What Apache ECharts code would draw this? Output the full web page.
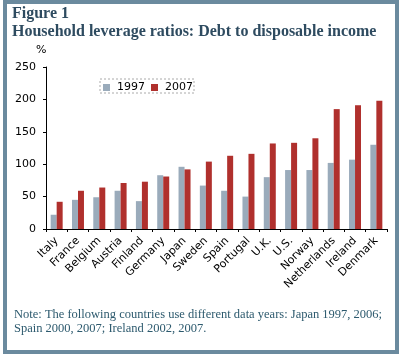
<!DOCTYPE html>
<html><head><meta charset="utf-8">
<script src="https://cdn.jsdelivr.net/npm/echarts@6/dist/echarts.min.js"></script>
<style>html,body{margin:0;padding:0;background:#fff}#c{width:404px;height:359px}</style>
</head><body><div id="c"></div>
<script>
var categories = ['Italy','France','Belgium','Austria','Finland','Germany','Japan','Sweden','Spain','Portugal','U.K.','U.S.','Norway','Netherlands','Ireland','Denmark'];
var values1997 = [22,45,49,59,43,83,96,67,59,50,80,91,91,102,107,130];
var values2007 = [42,59,64,71,73,81,92,104,113,116,132,133,140,185,191,198];
var yTicks = [0,50,100,150,200,250];

var chart = echarts.init(document.getElementById('c'));
chart.setOption({
  animation:false,
  backgroundColor:'#fff',
  graphic:[
    {type:'rect',shape:{x:5,y:2,width:392,height:350},style:{fill:'none',stroke:'#6b8a9e',lineWidth:4},z:0},
    {type:'text',left:12,top:6,style:{text:'Figure 1',font:'bold 16px "Liberation Serif"',fill:'#2e4b60'}},
    {type:'text',left:12,top:24,style:{text:'Household leverage ratios: Debt to disposable income',font:'bold 16px "Liberation Serif"',fill:'#2e4b60'}},
    {type:'text',left:36,top:45,style:{text:'%',font:'11px "DejaVu Sans"',fill:'#000'}},
    {type:'rect',shape:{x:100,y:79,width:94,height:14},style:{fill:'none',stroke:'#aaa',lineWidth:1,lineDash:[2,2]},z:5},
    {type:'text',left:14,top:308,style:{text:'Note: The following countries use different data years: Japan 1997, 2006;\nSpain 2000, 2007; Ireland 2002, 2007.',font:'12.5px "Liberation Serif"',fill:'#2d5a6e',lineHeight:14}}
  ],
  legend:{
    left:103,top:82,padding:0,itemWidth:7,itemHeight:7,itemGap:6,
    textStyle:{fontFamily:'DejaVu Sans',fontSize:11,color:'#000',padding:[0,0,0,2]},
    data:[{name:'1997',icon:'rect'},{name:'2007',icon:'rect'}]
  },
  grid:{left:46,right:17,top:67,bottom:130,containLabel:false},
  xAxis:{
    type:'category',data:categories,
    axisLine:{lineStyle:{color:'#000',width:1}},
    axisTick:{show:true,length:3,lineStyle:{color:'#000'}},
    axisLabel:{rotate:45,fontFamily:'DejaVu Sans',fontSize:11,color:'#000',margin:10,interval:0}
  },
  yAxis:{
    type:'value',min:0,max:250,interval:50,
    axisLine:{show:true,lineStyle:{color:'#000'}},
    axisTick:{show:true,length:3,lineStyle:{color:'#000'}},
    splitLine:{show:false},
    axisLabel:{fontFamily:'DejaVu Sans',fontSize:11,color:'#000',margin:10}
  },
  series:[
    {name:'1997',type:'bar',data:values1997,barWidth:6,barGap:'0%',itemStyle:{color:'#9aabbb'}},
    {name:'2007',type:'bar',data:values2007,barWidth:6,barGap:'0%',itemStyle:{color:'#b0302d'}}
  ]
});
</script></body></html>
